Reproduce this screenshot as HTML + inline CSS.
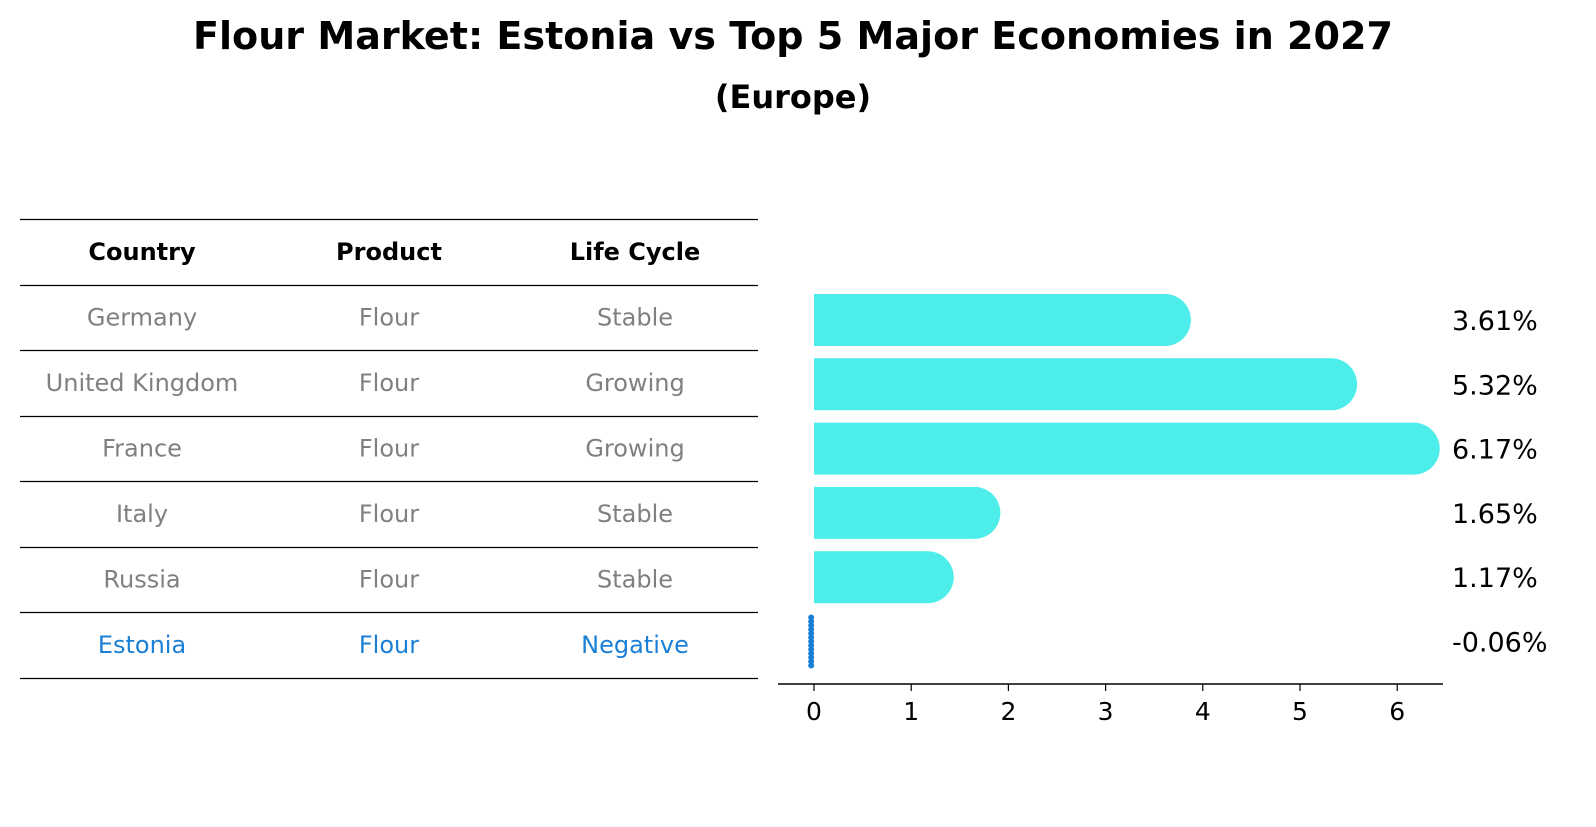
<!DOCTYPE html>
<html><head><meta charset="utf-8"><style>
body{margin:0;background:#fff;width:1596px;height:823px;overflow:hidden;font-family:"DejaVu Sans","Liberation Sans",sans-serif;}
</style></head><body>
<svg width="1596" height="823" viewBox="0 0 1596 823" xmlns="http://www.w3.org/2000/svg" font-family="DejaVu Sans, Liberation Sans, sans-serif">
<text x="793" y="49" text-anchor="middle" font-size="38" font-weight="bold" textLength="1200" lengthAdjust="spacingAndGlyphs">Flour Market: Estonia vs Top 5 Major Economies in 2027</text>
<text x="793" y="108" text-anchor="middle" font-size="32" font-weight="bold">(Europe)</text>
<g id="table"></g>
<g id="bars"></g>
</svg>
<script>
const countries=["Germany","United Kingdom","France","Italy","Russia","Estonia"];
const products=["Flour","Flour","Flour","Flour","Flour","Flour"];
const lifecycles=["Stable","Growing","Growing","Stable","Stable","Negative"];
const values=[3.61,5.32,6.17,1.65,1.17,-0.06];
const ticks=[0,1,2,3,4,5,6];
const NS="http://www.w3.org/2000/svg";
function mk(t,a,p){const e=document.createElementNS(NS,t);for(const k in a)e.setAttribute(k,a[k]);p.appendChild(e);return e;}
const tbl=document.getElementById('table');
const lineYs=[219,285,350,416,481,547,612,678];
lineYs.forEach((y,i)=>{const l=mk('line',{x1:20,x2:758,y1:y+0.5,y2:y+0.5,stroke:'#000','stroke-width':1.2},tbl);

});
const colX=[142,389,635];
["Country","Product","Life Cycle"].forEach((h,i)=>{const t=mk('text',{x:colX[i],y:260,'text-anchor':'middle','font-size':24,'font-weight':'bold'},tbl);t.textContent=h;

});
countries.forEach((c,r)=>{const y=(lineYs[r+1]+lineYs[r+2])/2+8;const col=c==="Estonia"?"#1a7fd6":"#808080";
[c,products[r],lifecycles[r]].forEach((v,i)=>{const t=mk('text',{x:colX[i],y:y,'text-anchor':'middle','font-size':24,fill:col},tbl);t.textContent=v;

});});
const g=document.getElementById('bars');
const x0=814,pxu=97.2;
const xs=v=>x0+v*pxu;
const ys=i=>320+i*64.3;
const bh=52,rad=26;
values.forEach((v,i)=>{const cy=ys(i);
if(v>=0){const xe=xs(v);
const p=mk('path',{d:`M${x0},${cy-bh/2} L${xe},${cy-bh/2} A${rad},${rad} 0 0 1 ${xe},${cy+bh/2} L${x0},${cy+bh/2} Z`,fill:'#4deeea'},g);

}
else{for(let k=0;k<13;k++){const c=mk('circle',{cx:xs(v)+3,cy:cy-24+k*4,r:3,fill:'#1a7fd6'},g);

}}
const t=mk('text',{x:1452,y:cy+10,'font-size':27},g);t.textContent=v.toFixed(2)+'%';

});
const ax=mk('line',{x1:778,x2:1443,y1:684,y2:684,stroke:'#000','stroke-width':1.5},g);


ticks.forEach(v=>{const tk=mk('line',{x1:xs(v),x2:xs(v),y1:684,y2:691,stroke:'#000','stroke-width':1.2},g);


const t=mk('text',{x:xs(v),y:720,'text-anchor':'middle','font-size':25},g);t.textContent=v;

});
</script>
</body></html>
